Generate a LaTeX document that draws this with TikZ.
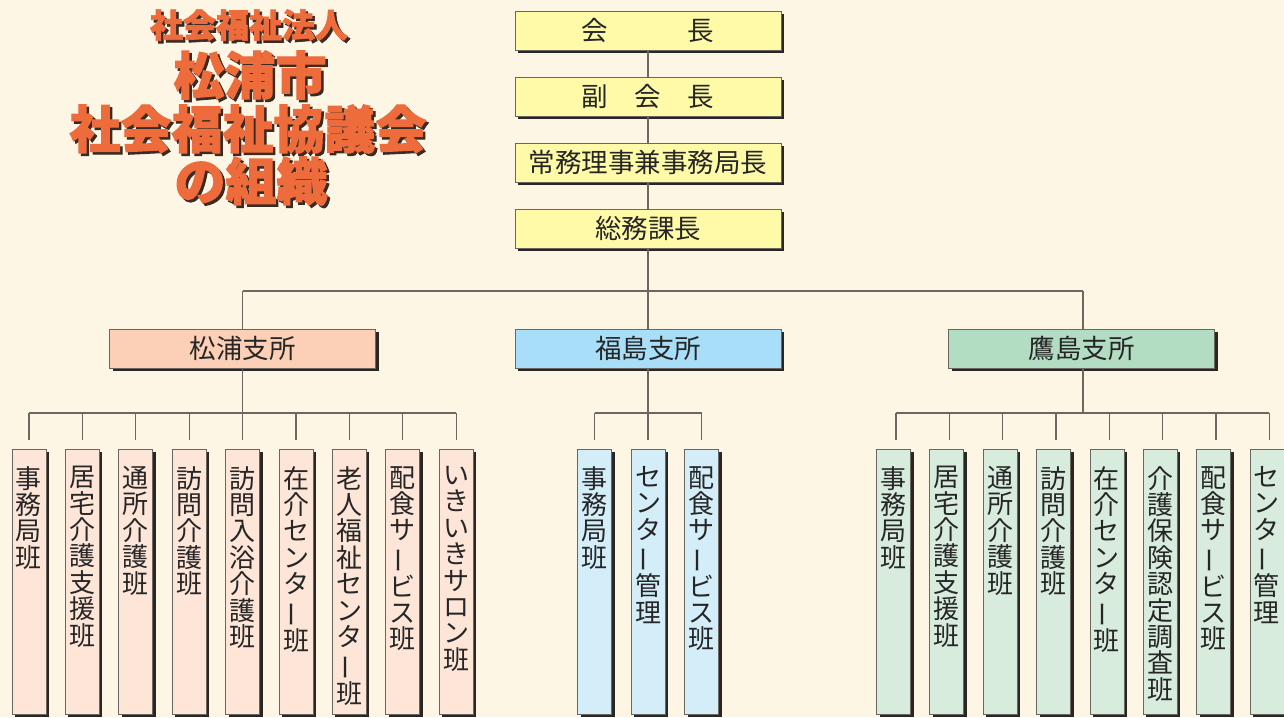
\documentclass[tikz,border=0pt]{standalone}
\usepackage{fontspec}
\usepackage{graphicx}
\usetikzlibrary{shadows}
\newfontfamily\jp{Noto Sans CJK JP}
\newfontfamily\jptitle{Noto Sans CJK JP}[FakeBold=2]
\definecolor{bg}{HTML}{FEF6E5}
\definecolor{topfill}{HTML}{FFFAA8}
\definecolor{matfill}{HTML}{FBD0B6}
\definecolor{matleaf}{HTML}{FDE5D8}
\definecolor{fukfill}{HTML}{A8DEF8}
\definecolor{fukleaf}{HTML}{D4EEF9}
\definecolor{takfill}{HTML}{B2DDC3}
\definecolor{takleaf}{HTML}{D8ECDD}
\definecolor{boxline}{HTML}{6A6662}
\definecolor{shadowc}{HTML}{2A2624}
\definecolor{conncol}{HTML}{6E6761}
\definecolor{titleorange}{HTML}{EE6B3B}
\definecolor{titleshadow}{HTML}{3A2C24}
\newcommand\chobar{\rotatebox[origin=c]{90}{ー}}
\tikzset{
  box/.style={draw=boxline, line width=0.8pt, inner sep=0pt,
    drop shadow={shadow xshift=3pt, shadow yshift=-3pt, opacity=1, fill=shadowc}},
  hbox/.style={box, minimum width=266pt, minimum height=39pt,
    font=\jp\fontsize{26.5}{27}\selectfont, text=black!85},
  topbox/.style={hbox, fill=topfill},
  leafbox/.style={box, minimum width=34pt, minimum height=265pt, anchor=north},
  vtext/.style={anchor=north, inner sep=0pt, align=center,
    font=\jp\fontsize{26}{26.4}\selectfont, text=black!85},
  conn/.style={draw=conncol, line width=1.3pt},
  ttl/.style={font=\jptitle\bfseries, inner sep=0pt}
}
\begin{document}
\begin{tikzpicture}[x=1pt, y=-1pt]
\useasboundingbox (0,0) rectangle (1284,717);
\fill[bg] (0,0) rectangle (1284,717);

% title
\foreach \n/\t/\s/\xx/\yy in {t1/社会福祉法人/33/249/25, t2/松浦市/51/250/75, t3/社会福祉協議会/51/248/129, t4/の組織/51/251/181}{
  \node[ttl, text=titleshadow, font=\jptitle\bfseries\fontsize{\s}{\s}\selectfont] (\n s) at (\xx+2.5,\yy+2.5) {\t};
  \node[ttl, text=titleorange, font=\jptitle\bfseries\fontsize{\s}{\s}\selectfont] (\n) at (\xx,\yy) {\t};
}

% top chain
\node[topbox] (k1) at (648,30.5) {会　　　長};
\node[topbox] (k2) at (648,96.5) {副　会　長};
\node[topbox] (k3) at (648,162.5) {常務理事兼事務局長};
\node[topbox] (k4) at (648,228.5) {総務課長};
\draw[conn] (k1.south) -- (k2.north);
\draw[conn] (k2.south) -- (k3.north);
\draw[conn] (k3.south) -- (k4.north);

% branches
\node[hbox, fill=matfill] (mat) at (242.5,348.5) {松浦支所};
\node[hbox, fill=fukfill] (fuk) at (648,348.5) {福島支所};
\node[hbox, fill=takfill] (tak) at (1081.5,348.5) {鷹島支所};
\coordinate (tbus) at (648,291);
\coordinate (tdrop) at (1083,291);
\draw[conn] (k4.south) -- (fuk.north);
\draw[conn] (mat.north |- tbus) -- (tdrop);
\draw[conn] (mat.north |- tbus) -- (mat.north);
\draw[conn] (tdrop) -- (tdrop |- tak.north);

% Matsuura leaves
\coordinate (mbus) at (242.5,413);
\foreach [count=\i] \t in {
  {事\\務\\局\\班},
  {居\\宅\\介\\護\\支\\援\\班},
  {通\\所\\介\\護\\班},
  {訪\\問\\介\\護\\班},
  {訪\\問\\入\\浴\\介\\護\\班},
  {在\\介\\セ\\ン\\タ\\\chobar\\班},
  {老\\人\\福\\祉\\セ\\ン\\タ\\\chobar\\班},
  {配\\食\\サ\\\chobar\\ビ\\ス\\班},
  {い\\き\\い\\き\\サ\\ロ\\ン\\班}}{
  \node[leafbox, fill=matleaf] (m\i) at ({29+53.4*(\i-1)},449) {};
  \node[vtext] (mt\i) at ([yshift=-17pt]m\i.north) {\t};
}
\draw[conn] (mat.south) -- (mbus);
\draw[conn] (m1.north |- mbus) -- (m9.north |- mbus);
\foreach \i in {1,...,9}{ \draw[conn] (m\i.north |- mbus) -- ([yshift=9pt]m\i.north); }

% Fukushima leaves
\coordinate (fbus) at (648,413);
\foreach [count=\i] \t in {
  {事\\務\\局\\班},
  {セ\\ン\\タ\\\chobar\\管\\理},
  {配\\食\\サ\\\chobar\\ビ\\ス\\班}}{
  \node[leafbox, fill=fukleaf] (f\i) at ({594.5+53.5*(\i-1)},449) {};
  \node[vtext] (ft\i) at ([yshift=-17pt]f\i.north) {\t};
}
\draw[conn] (fuk.south) -- (fbus);
\draw[conn] (f1.north |- fbus) -- (f3.north |- fbus);
\foreach \i in {1,...,3}{ \draw[conn] (f\i.north |- fbus) -- ([yshift=9pt]f\i.north); }

% Takashima leaves
\coordinate (kbus) at (1083,413);
\foreach [count=\i] \t in {
  {事\\務\\局\\班},
  {居\\宅\\介\\護\\支\\援\\班},
  {通\\所\\介\\護\\班},
  {訪\\問\\介\\護\\班},
  {在\\介\\セ\\ン\\タ\\\chobar\\班},
  {介\\護\\保\\険\\認\\定\\調\\査\\班},
  {配\\食\\サ\\\chobar\\ビ\\ス\\班},
  {セ\\ン\\タ\\\chobar\\管\\理}}{
  \node[leafbox, fill=takleaf] (g\i) at ({893.5+53.35*(\i-1)},449) {};
  \node[vtext] (gt\i) at ([yshift=-17pt]g\i.north) {\t};
}
\draw[conn] (tak.south -| kbus) -- (kbus);
\draw[conn] ([xshift=2.5pt]g1.north |- kbus) -- ([xshift=2.5pt]g8.north |- kbus);
\foreach \i in {1,...,8}{ \draw[conn] ([xshift=2.5pt]g\i.north |- kbus) -- ([xshift=2.5pt,yshift=9pt]g\i.north); }
\end{tikzpicture}
\end{document}
